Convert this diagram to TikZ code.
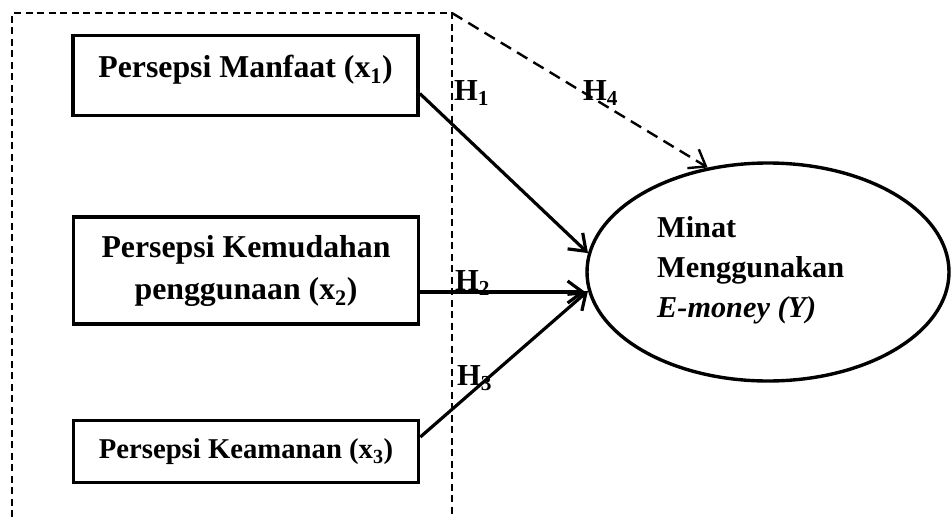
\documentclass[tikz,border=0pt]{standalone}
\usepackage{fontspec}
\setmainfont{Liberation Serif}
\usetikzlibrary{arrows.meta,shapes.geometric}
\begin{document}
\begin{tikzpicture}[x=1pt,y=-1pt,
  box/.style={draw, line width=3.6pt, minimum width=345pt, inner sep=0pt,
    font=\fontsize{31.8}{42}\selectfont\bfseries, align=center},
  conn/.style={line width=3.2pt, -{Straight Barb[length=15pt,width=22pt]}},
  hyp/.style={font=\fontsize{30.5}{36}\selectfont\bfseries, inner sep=0pt, anchor=base west},
  frame/.style={line width=1.6pt, dash pattern=on 7pt off 4.5pt},
  dconn/.style={line width=2.4pt, dash pattern=on 12pt off 7pt, -{Straight Barb[length=15pt,width=22pt]}},
]
\useasboundingbox (0,0) rectangle (952,517);
% dashed frame
\coordinate (fbl) at (12,517);
\coordinate (ftl) at (12,13);
\coordinate (ftr) at (452,13);
\coordinate (fbr) at (452,517);
\draw[frame] (fbl) -- (ftl) -- (ftr) -- (fbr);
% boxes
\node[box, minimum height=80pt, text height=22pt, text depth=18pt] (b1) at (245.5,75.5) {Persepsi Manfaat (x\textsubscript{1})};
\node[box, minimum height=107pt] (b2) at (246,270.5) {Persepsi Kemudahan\\penggunaan (x\textsubscript{2})};
\node[box, minimum height=62pt, font=\fontsize{28.7}{36}\selectfont\bfseries] (b3) at (246,451.5) {Persepsi Keamanan (x\textsubscript{3})};
% ellipse
\node[draw, ellipse, line width=3.4pt, minimum width=362pt, minimum height=218pt, inner sep=0pt] (e) at (768,272) {};
\node[align=left, anchor=west, inner sep=0pt, font=\fontsize{30.3}{40}\selectfont\bfseries] (ytxt) at (657,270)
  {Minat\\Menggunakan\\\textit{E-money (Y)}};
% labels
\node[hyp] (h1) at (454,100) {H\textsubscript{1}};
\node[hyp] (h2) at (455,290) {H\textsubscript{2}};
\node[hyp] (h3) at (457,385) {H\textsubscript{3}};
\node[hyp] (h4) at (583,100) {H\textsubscript{4}};
% connectors
\coordinate (s1) at ([yshift=-18pt]b1.east);
\coordinate (s2) at ([yshift=-21.5pt]b2.east);
\coordinate (s3) at ([yshift=14.5pt]b3.east);
\draw[conn] (s1) -- (e.174);
\draw[conn] (s2) -- (s2 -| e.west);
\draw[conn] (s3) -- (e.186);
\draw[dconn] (ftr) -- (e.120);
\end{tikzpicture}
\end{document}
